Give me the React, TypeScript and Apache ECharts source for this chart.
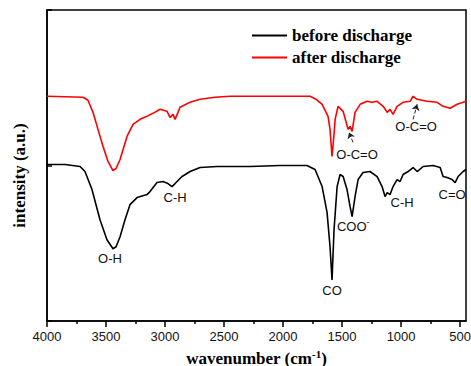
import React, { useEffect, useRef } from 'react';
import * as echarts from 'echarts';

// after discharge (red)
const redWavenumber = [4000, 3695, 3653, 3610, 3568, 3525, 3483, 3441, 3415, 3381, 3322, 3271, 3212, 3153, 3102, 3042, 2983, 2958, 2932, 2915, 2890, 2873, 2788, 2703, 2576, 2449, 2195, 1941, 1771, 1720, 1669, 1619, 1602, 1585, 1568, 1559, 1534, 1491, 1449, 1432, 1415, 1390, 1347, 1288, 1246, 1203, 1152, 1118, 1093, 1068, 1034, 983, 924, 898, 864, 780, 695, 644, 585, 525, 474, 450];
const redIntensity = [224, 223, 220, 208, 191, 174, 159, 150, 152, 161, 184, 196, 201, 204, 207, 211, 209, 203, 206, 201, 208, 213, 218, 221, 223, 224, 224, 224, 224, 221, 216, 204, 191, 164, 186, 201, 214, 209, 191, 194, 189, 208, 216, 219, 218, 219, 214, 208, 211, 206, 214, 218, 219, 224, 221, 219, 218, 214, 212, 216, 218, 219];

// before discharge (black)
const blackWavenumber = [4000, 3847, 3720, 3678, 3619, 3551, 3492, 3441, 3415, 3381, 3339, 3297, 3237, 3153, 3127, 3068, 3017, 2975, 2941, 2915, 2856, 2788, 2703, 2559, 2280, 2025, 1797, 1729, 1669, 1627, 1602, 1585, 1568, 1542, 1517, 1491, 1458, 1432, 1415, 1390, 1364, 1322, 1263, 1203, 1161, 1136, 1118, 1093, 1068, 1034, 1008, 983, 941, 898, 864, 813, 729, 669, 644, 610, 568, 542, 517, 474, 450];
const blackIntensity = [156, 156, 154, 149, 131, 101, 81, 72, 74, 84, 101, 116, 123, 126, 129, 138, 139, 137, 134, 137, 144, 149, 153, 154, 154, 155, 155, 151, 134, 108, 74, 41, 91, 134, 146, 144, 131, 114, 104, 124, 141, 148, 149, 144, 134, 124, 128, 126, 134, 141, 139, 146, 149, 153, 149, 154, 155, 153, 144, 143, 141, 138, 144, 149, 151];

const majorTicks = [4000, 3500, 3000, 2500, 2000, 1500, 1000, 500];
const minorTicks = [3750, 3250, 2750, 2250, 1750, 1250, 750];

const blackLabelText = ['O-H', 'C-H', 'CO', 'COO{sup|-}', 'C-H', 'C=O'];
const blackLabelWn = [3466, 2915, 1585, 1405, 991, 568];
const blackLabelV = [62, 123, 30, 94, 118, 126];

const redLabelText = ['O-C=O', 'O-C=O'];
const redLabelWn = [1373, 873];
const redLabelV = [166, 194];

const arrowFromWn = [1407, 898];
const arrowFromV = [178, 201];
const arrowToWn = [1441, 864];
const arrowToV = [188, 216];

const serif = '"Liberation Serif", "Times New Roman", serif';
const sans = '"Liberation Sans", Arial, sans-serif';

export default function App() {
  const ref = useRef<HTMLDivElement>(null);
  useEffect(() => {
    if (!ref.current) return;
    const chart = echarts.init(ref.current, null, { renderer: 'svg' });
    const labelStyle = {
      show: true,
      position: 'inside',
      color: '#111',
      fontSize: 13,
      fontFamily: sans,
      rich: { sup: { fontSize: 9, fontFamily: sans, color: '#111', padding: [0, 0, 9, 0] } },
    };
    const mkPoints = (texts: string[], wns: number[], vs: number[]) =>
      texts.map((t, i) => ({
        coord: [wns[i], vs[i]],
        symbol: 'circle',
        symbolSize: 1,
        itemStyle: { color: 'transparent' },
        label: { ...labelStyle, formatter: t },
      }));
    const tickFmt = (v: number) => String(v);
    chart.setOption({
      animation: false,
      grid: {
        left: 47, right: 5, top: 10, bottom: 45,
        containLabel: false,
        outerBoundsMode: 'none',
        show: true, borderColor: '#000', borderWidth: 1.5, backgroundColor: 'transparent',
      },
      legend: {
        left: 252,
        top: 27,
        orient: 'vertical',
        padding: 0,
        icon: 'rect',
        itemWidth: 35,
        itemHeight: 2,
        itemGap: 5,
        textStyle: { fontFamily: serif, fontWeight: 'bold', fontSize: 17, color: '#000', lineHeight: 17 },
        data: ['before discharge', 'after discharge'],
      },
      xAxis: [
        {
          type: 'value',
          inverse: true,
          min: 450,
          max: 4000,
          name: 'wavenumber (cm{sup|-1})',
          nameLocation: 'middle',
          nameGap: 27,
          nameTextStyle: {
            fontFamily: serif, fontWeight: 'bold', fontSize: 17, color: '#000',
            rich: { sup: { fontFamily: serif, fontWeight: 'bold', fontSize: 11, color: '#000', padding: [0, 0, 9, 0] } },
          },
          axisLine: { lineStyle: { color: '#000', width: 1.5 } },
          axisTick: { show: true, length: 6, customValues: majorTicks, lineStyle: { color: '#000', width: 1.5 } },
          axisLabel: {
            customValues: majorTicks, formatter: tickFmt, hideOverlap: false,
            showMinLabel: true, showMaxLabel: true,
            margin: 9, fontFamily: sans, fontSize: 13, color: '#111',
          },
          splitLine: { show: false },
        },
        {
          type: 'value',
          inverse: true,
          min: 450,
          max: 4000,
          position: 'bottom',
          axisLine: { show: false },
          axisTick: { show: true, length: 3, customValues: minorTicks, lineStyle: { color: '#000', width: 1.5 } },
          axisLabel: { show: false },
          splitLine: { show: false },
        },
      ],
      yAxis: {
        type: 'value',
        min: 0,
        max: 310,
        interval: 155,
        name: 'intensity (a.u.)',
        nameLocation: 'middle',
        nameGap: 19,
        nameTextStyle: { fontFamily: serif, fontWeight: 'bold', fontSize: 17, color: '#000', padding: [0, 20, 0, 0] },
        axisLine: { show: true, lineStyle: { color: '#000', width: 1.5 } },
        axisTick: { show: true, inside: true, length: 5, lineStyle: { color: '#000', width: 1.5 } },
        axisLabel: { show: false },
        splitLine: { show: false },
      },
      series: [
        {
          name: 'before discharge',
          type: 'line',
          symbol: 'none',
          lineStyle: { color: '#000', width: 1.6 },
          itemStyle: { color: '#000' },
          data: blackWavenumber.map((w, i) => [w, blackIntensity[i]]),
          markPoint: { silent: true, data: mkPoints(blackLabelText, blackLabelWn, blackLabelV) },
        },
        {
          name: 'after discharge',
          type: 'line',
          symbol: 'none',
          lineStyle: { color: '#ff0000', width: 1.6 },
          itemStyle: { color: '#ff0000' },
          data: redWavenumber.map((w, i) => [w, redIntensity[i]]),
          markPoint: { silent: true, data: mkPoints(redLabelText, redLabelWn, redLabelV) },
          markLine: {
            silent: true,
            symbol: ['none', 'arrow'],
            symbolSize: 6,
            label: { show: false },
            lineStyle: { type: 'dashed', color: '#222', width: 1 },
            data: arrowFromWn.map((w, i) => [
              { coord: [w, arrowFromV[i]] },
              { coord: [arrowToWn[i], arrowToV[i]] },
            ]),
          },
        },
      ],
    });
    return () => chart.dispose();
  }, []);
  return <div ref={ref} style={{ width: 471, height: 366, position: 'absolute', left: 0, top: 0 }} />;
}
